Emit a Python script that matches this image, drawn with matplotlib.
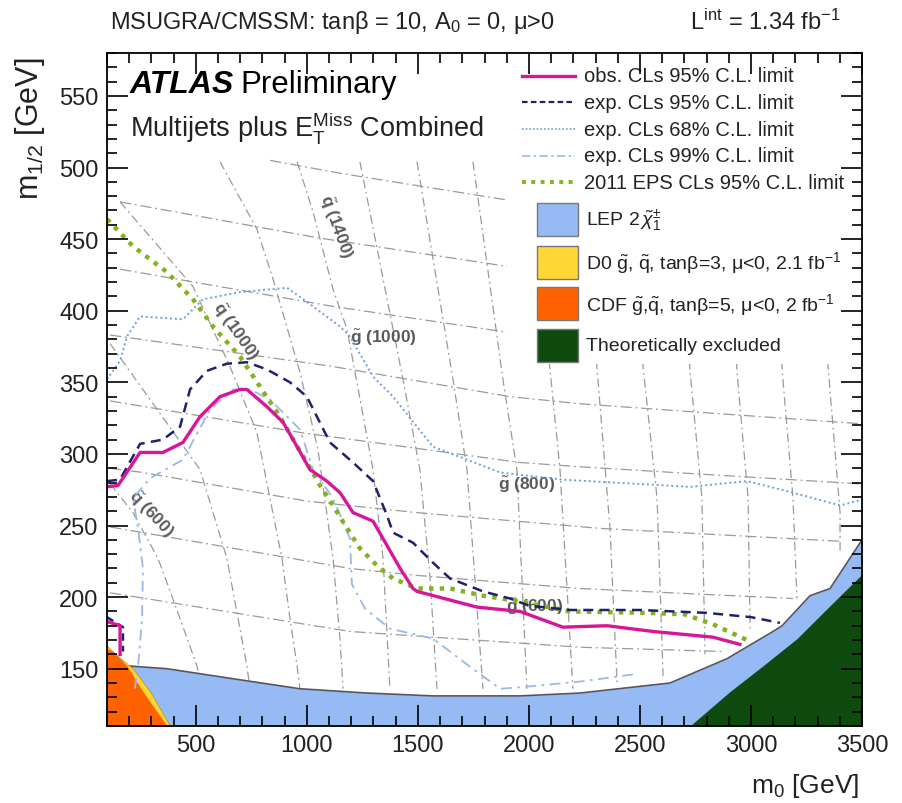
import numpy as np
import matplotlib.pyplot as plt
from matplotlib.patches import Rectangle

plt.rcParams['font.family'] = ['Liberation Sans', 'DejaVu Sans']
plt.rcParams['mathtext.fontset'] = 'custom'
plt.rcParams['mathtext.rm'] = 'Liberation Sans'
plt.rcParams['mathtext.it'] = 'Liberation Sans:italic'
plt.rcParams['mathtext.bf'] = 'Liberation Sans:bold'

# --- limit contours (m0, m1/2) in GeV ---
obs_m0 = [100, 150, 249, 352, 442, 519, 609, 699, 730, 820, 893, 938, 1014, 1090, 1149, 1208,
          1298, 1361, 1420, 1478, 1496, 1766, 1960, 2153, 2352, 2559, 2829, 2950]
obs_m12 = [277, 278, 301, 301, 308, 326, 340, 345, 345, 333, 322, 310, 289, 281, 273, 259,
           253, 236, 220, 206, 204, 193, 190, 179, 180, 176, 172, 167]
obs_hook_m0 = [100, 159, 159]
obs_hook_m12 = [183, 180, 160]

exp_m0 = [100, 158, 249, 352, 429, 474, 550, 640, 730, 820, 924, 1000, 1104, 1208, 1298, 1361,
          1388, 1478, 1568, 1645, 1793, 1915, 2000, 2185, 2500, 2800, 3000, 3130]
exp_m12 = [281, 282, 307, 310, 319, 345, 358, 363, 364, 359, 350, 340, 308, 294, 281, 257,
           245, 238, 224, 213, 204, 199, 194, 191, 191, 189, 186, 182]
exp_hook_m0 = [100, 172, 172]
exp_hook_m12 = [186, 179, 162]

eps_m0 = [100, 217, 370, 487, 577, 699, 789, 879, 938, 1000, 1059, 1118, 1181, 1239, 1316, 1388,
          1496, 1645, 1793, 1960, 2185, 2532, 2700, 2829, 2982]
eps_m12 = [464, 445, 427, 408, 389, 368, 347, 326, 310, 294, 278, 264, 248, 234, 222, 213,
           206, 206, 201, 197, 190, 189, 188, 181, 170]

e68_m0 = [100, 159, 190, 249, 442, 487, 532, 699, 911, 1028, 1149, 1194, 1298, 1388, 1568, 1721,
          1870, 2153, 2725, 2982, 3162, 3401, 3500]
e68_m12 = [352, 365, 382, 396, 394, 401, 408, 413, 416, 403, 389, 382, 354, 340, 305, 296,
           287, 282, 277, 281, 274, 264, 268]

e99_m0 = [226, 240, 258, 262, 240, 217, 294, 442, 564, 667, 744, 834, 969, 1028, 1118, 1194,
          1203, 1262, 1374, 1568, 1721, 1870, 1960, 2230, 2469]
e99_m12 = [136, 152, 185, 220, 248, 269, 283, 296, 331, 345, 345, 338, 317, 289, 269, 241,
           209, 192, 178, 171, 153, 136, 137, 141, 146]

# --- excluded regions ---
lep_m0 = [100, 190, 370, 667, 969, 1271, 1568, 1960, 2230, 2635, 2892, 3099, 3140, 3266, 3356, 3500]
lep_m12 = [152, 152, 150, 143, 136, 133, 131, 131, 133, 140, 157, 176, 180, 201, 206, 240]
theo_m0 = [2725, 2905, 3054, 3207, 3356, 3500]
theo_m12 = [110, 134, 152, 171, 194, 216]
d0_m0 = [100, 140, 217, 294, 384]
d0_m12 = [166, 160, 150, 134, 110]
cdf_m0 = [100, 127, 190, 262, 339, 370]
cdf_m12 = [164, 162, 152, 134, 117, 110]

# --- squark / gluino iso-mass contours ---
squark = {
    600: ([114, 217, 330, 429, 505, 528], [279, 259, 227, 185, 152, 136]),
    800: ([114, 294, 519, 640, 730, 744], [377, 338, 289, 227, 152, 136]),
    1000: ([159, 487, 654, 775, 834, 888, 924, 956, 969], [476, 417, 361, 315, 269, 227, 185, 152, 136]),
    1200: ([609, 775, 848, 969, 1050, 1118, 1149, 1163], [504, 457, 422, 357, 303, 227, 171, 136]),
    1400: ([956, 1028, 1118, 1181, 1248, 1298, 1343, 1374], [504, 469, 415, 387, 331, 289, 227, 136]),
    1600: ([1239, 1433, 1509, 1555, 1586], [504, 352, 289, 213, 136]),
    1800: ([1496, 1658, 1721, 1793], [504, 352, 289, 136]),
    2000: ([1748, 1883, 1946, 1991], [504, 352, 289, 136]),
    2200: ([2005, 2095, 2140, 2198], [504, 359, 289, 136]),
    2400: ([2230, 2307, 2365, 2397], [504, 359, 248, 140]),
    2600: ([2455, 2514, 2577, 2604], [504, 361, 269, 145]),
    2800: ([2671, 2725, 2779, 2793], [504, 359, 269, 160]),
    3000: ([2892, 2937, 2987, 2996], [504, 357, 269, 176]),
    3200: ([3099, 3140, 3189, 3207], [504, 359, 269, 199]),
    3400: ([3311, 3347, 3401, 3401], [504, 361, 259, 232]),
}
gluino = {
    1200: ([834, 1149, 1915, 3491], [505, 496, 477, 443]),
    1100: ([159, 1046, 1901, 3500], [476, 451, 431, 408]),
    1000: ([159, 1118, 1901, 2230, 3500], [429, 403, 385, 378, 363]),
    900: ([114, 1118, 1915, 2230, 3500], [383, 361, 340, 335, 321]),
    800: ([114, 969, 1960, 2230, 3500], [337, 315, 294, 291, 279]),
    700: ([114, 262, 1001, 1496, 2320, 3401], [290, 287, 267, 259, 248, 239]),
    600: ([114, 1194, 1509, 2230, 3189], [249, 220, 215, 206, 199]),
    500: ([114, 1194, 2230, 2874], [203, 176, 165, 162]),
}
mass_labels = [r'$\tilde{\mathbf{q}}$ (1400)', r'$\tilde{\mathbf{q}}$ (1000)', r'$\tilde{\mathbf{q}}$ (600)',
               r'$\tilde{\mathbf{g}}$ (1000)', r'$\tilde{\mathbf{g}}$ (800)', r'$\tilde{\mathbf{g}}$ (600)']
mass_label_m0 = [1130, 680, 300, 1345, 1990, 2025]
mass_label_m12 = [459, 386, 259, 382, 279, 194]
mass_label_rot = [-70, -55, -47, 0, 0, 0]

fig = plt.figure(figsize=(9.02, 8.04), dpi=100)
ax = fig.add_axes([0.1186, 0.0958, 0.8371, 0.8371])

for m, (x, y) in squark.items():
    ax.plot(x, y, color='#9a9a9a', lw=0.9, ls=(0, (7, 3, 1.5, 3)), zorder=1)
for m, (x, y) in gluino.items():
    ax.plot(x, y, color='#9a9a9a', lw=0.9, ls=(0, (9, 3, 1.5, 3)), zorder=1)
for t, x, y, r in zip(mass_labels, mass_label_m0, mass_label_m12, mass_label_rot):
    ax.text(x, y, t, rotation=r, ha='center', va='center', fontsize=12.5,
            fontweight='bold', color='#5a5a5a', zorder=1.1)

# exclusion regions
ax.fill_between(lep_m0, lep_m12, 110, color='#96baf3', lw=0, zorder=2)
ax.plot(lep_m0, lep_m12, color='#555560', lw=1.2, zorder=2.1)
ax.fill_between(d0_m0, d0_m12, 110, color='#ffd633', ec='#b89a30', lw=0.6, zorder=2.2)
ax.fill_between(cdf_m0, cdf_m12, 110, color='#ff6200', lw=0, zorder=2.3)
ax.fill_between(theo_m0, theo_m12, 110, color='#0f4a0f', lw=0, zorder=2.4)

# limit curves
ax.plot(e99_m0, e99_m12, color='#9cb6e8', lw=1.3, ls=(0, (6, 3, 1.5, 3)), zorder=3)
ax.plot(e68_m0, e68_m12, color='#6f9edb', lw=1.4, ls=(0, (1, 1.5)), zorder=3)
ax.plot(eps_m0, eps_m12, color='#82b221', lw=3.2, ls=(0, (1, 1.4)), zorder=3.2)
ax.plot(exp_m0, exp_m12, color='#20206e', lw=1.8, ls=(0, (4, 2.5)), zorder=3.3)
ax.plot(exp_hook_m0, exp_hook_m12, color='#20206e', lw=1.8, ls=(0, (3, 2)), zorder=3.3)
ax.plot(obs_m0, obs_m12, color='#d6179a', lw=2.4, zorder=3.5)
ax.plot(obs_hook_m0, obs_hook_m12, color='#d6179a', lw=2.4, zorder=3.5)

ax.set_xlim(100, 3500)
ax.set_ylim(110, 580)
ax.set_xticks(np.arange(500, 3501, 500))
ax.set_xticks(np.arange(100, 3501, 100), minor=True)
ax.set_yticks(np.arange(150, 551, 50))
ax.set_yticks(np.arange(110, 581, 10), minor=True)
ax.tick_params(which='both', direction='in', top=True, right=True, width=1.2, labelsize=17,
               labelcolor='#222222')
ax.tick_params(which='major', length=15, pad=6)
ax.tick_params(which='minor', length=7)
ax.xaxis.set_zorder(10)
ax.yaxis.set_zorder(10)
for s in ax.spines.values():
    s.set_linewidth(1.3)
    s.set_zorder(10)

# legend (white box hides the mass grid)
ax.add_patch(Rectangle((0.53, 0.538), 0.47, 0.462, transform=ax.transAxes,
                       fc='white', ec='none', zorder=1.5))
leg_lines = ['obs. CLs 95% C.L. limit', 'exp. CLs 95% C.L. limit', 'exp. CLs 68% C.L. limit',
             'exp. CLs 99% C.L. limit', '2011 EPS CLs 95% C.L. limit']
leg_line_styles = [dict(color='#d6179a', lw=2.4, ls='-'),
                   dict(color='#20206e', lw=1.6, ls=(0, (2.5, 1.5))),
                   dict(color='#6f9edb', lw=1.2, ls=(0, (1, 1.2))),
                   dict(color='#9cb6e8', lw=1.2, ls=(0, (5, 2, 1.5, 2))),
                   dict(color='#82b221', lw=2.8, ls=(0, (1, 1.4)))]
leg_line_y = [0.966, 0.927, 0.887, 0.847, 0.808]
for lab, st, y in zip(leg_lines, leg_line_styles, leg_line_y):
    ax.plot([0.55, 0.62], [y, y], transform=ax.transAxes, zorder=6, **st)
    ax.text(0.632, y, lab, transform=ax.transAxes, fontsize=14.5, va='center', color='#222222', zorder=6)

leg_boxes = [r'LEP 2$\,\tilde{\chi}_1^{\pm}$',
             r'D0 $\tilde{\mathrm{g}}$, $\tilde{\mathrm{q}}$, tanβ=3, μ<0, 2.1 fb$^{-1}$',
             r'CDF $\tilde{\mathrm{g}}$,$\tilde{\mathrm{q}}$, tanβ=5, μ<0, 2 fb$^{-1}$',
             'Theoretically excluded']
leg_box_colors = ['#96baf3', '#ffd633', '#ff6200', '#0f4a0f']
leg_box_y = [0.752, 0.689, 0.627, 0.565]
for lab, c, y in zip(leg_boxes, leg_box_colors, leg_box_y):
    ax.add_patch(Rectangle((0.570, y - 0.0245), 0.054, 0.049, transform=ax.transAxes,
                           fc=c, ec='#777777', lw=1.0, zorder=6))
    ax.text(0.634, y, lab, transform=ax.transAxes, fontsize=14, va='center', color='#222222', zorder=6)

ax.text(0.030, 0.954, 'ATLAS', transform=ax.transAxes, fontsize=23, fontweight='bold',
        fontstyle='italic', va='center', zorder=6)
ax.text(0.177, 0.954, 'Preliminary', transform=ax.transAxes, fontsize=22.5, va='center', zorder=6)
ax.text(0.030, 0.890, r'Multijets plus E$_{\mathrm{T}}^{\mathrm{Miss}}$ Combined', transform=ax.transAxes,
        fontsize=19.5, va='center', color='#222222', zorder=6)

fig.text(0.122, 0.972, r'MSUGRA/CMSSM: tanβ = 10, A$_0$ = 0, μ>0', fontsize=17,
         va='center', color='#222222')
fig.text(0.765, 0.972, r'L$^{\mathrm{int}}$ = 1.34 fb$^{-1}$', fontsize=17, va='center', color='#222222')
fig.text(0.953, 0.022, r'm$_0$ [GeV]', fontsize=19, ha='right', va='center', color='#222222')
fig.text(0.033, 0.928, r'm$_{1/2}$ [GeV]', fontsize=22, ha='center', va='top', rotation=90, color='#222222')

fig.savefig('out.png', dpi=100)
